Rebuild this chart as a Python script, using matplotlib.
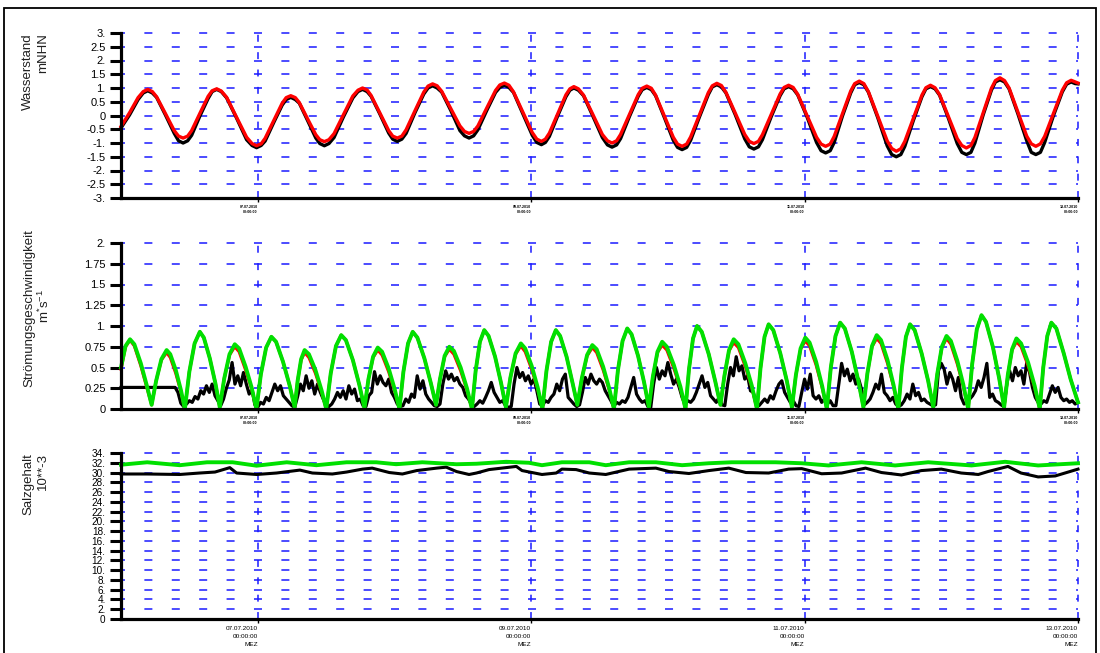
import numpy as np
import matplotlib
matplotlib.use("Agg")
import matplotlib.pyplot as plt
from matplotlib.ticker import FixedFormatter
from matplotlib.patches import Rectangle

plt.rcParams['font.family'] = ['Liberation Sans', 'DejaVu Sans']
plt.rcParams['mathtext.fontset'] = 'custom'
plt.rcParams['mathtext.rm'] = 'Liberation Sans'
plt.rcParams['mathtext.it'] = 'Liberation Sans'
plt.rcParams['lines.scale_dashes'] = False

# ---------------------------------------------------------------- data
start = np.datetime64('2010-07-06T00:00')
end = np.datetime64('2010-07-13T00:00')

# water level, hours after start (one row per half tide)
tide_hours = [
    0, 1.5, 3.0, 3.9, 4.7, 5.5,
    6.25, 7.8, 9.35, 10.1, 10.9, 11.7,
    12.4, 13.85, 15.3, 16.0, 16.8, 17.6,
    18.55, 20.3, 22.05, 23.0, 23.8, 24.6,
    25.3, 26.8, 28.3, 29.0, 29.8, 30.6,
    31.3, 32.75, 34.2, 34.9, 35.7, 36.5,
    37.4, 39.05, 40.7, 41.6, 42.4, 43.2,
    43.9, 45.45, 47.0, 47.7, 48.5, 49.3,
    50.05, 51.6, 53.15, 53.9, 54.7, 55.5,
    56.3, 57.9, 59.5, 60.3, 61.1, 61.9,
    62.65, 64.2, 65.75, 66.5, 67.3, 68.1,
    68.9, 70.55, 72.2, 73.0, 73.8, 74.5,
    75.2, 76.65, 78.1, 78.8, 79.5, 80.3,
    81.2, 82.85, 84.5, 85.4, 86.2, 87.0,
    87.7, 89.25, 90.8, 91.5, 92.3, 93.1,
    93.85, 95.4, 96.95, 97.7, 98.5, 99.3,
    100.0, 101.55, 103.1, 103.8, 104.6, 105.4,
    106.2, 107.85, 109.5, 110.3, 111.1, 111.9,
    112.6, 114.15, 115.7, 116.4, 117.2, 118.0,
    118.8, 120.45, 122.1, 122.9, 123.7, 124.5,
    125.2, 126.65, 128.1, 128.8, 129.6, 130.4,
    131.2, 132.85, 134.5, 135.3, 136.1, 136.9,
    137.6, 139.1, 140.6, 141.3, 142.1, 142.9,
    143.7, 145.25, 146.8, 147.6, 148.4, 149.2,
    149.9, 151.35, 152.8, 153.5, 154.3, 155.1,
    155.9, 157.45, 159.0, 159.8, 160.6, 161.4,
    162.15, 163.7, 165.25, 166.0, 166.8, 167.5,
    168.0]
tide_model = [
    -0.40, 0.10, 0.65, 0.87, 0.95, 0.87,
    0.68, 0.07, -0.55, -0.75, -0.82, -0.75,
    -0.55, 0.08, 0.70, 0.90, 0.97, 0.89,
    0.66, -0.07, -0.79, -1.02, -1.10, -1.03,
    -0.83, -0.19, 0.45, 0.65, 0.72, 0.65,
    0.47, -0.12, -0.70, -0.88, -0.95, -0.88,
    -0.66, 0.03, 0.71, 0.92, 1.00, 0.93,
    0.73, 0.09, -0.55, -0.75, -0.82, -0.75,
    -0.52, 0.17, 0.85, 1.07, 1.15, 1.08,
    0.88, 0.25, -0.38, -0.58, -0.65, -0.58,
    -0.38, 0.27, 0.91, 1.11, 1.18, 1.10,
    0.86, 0.12, -0.62, -0.86, -0.94, -0.86,
    -0.64, 0.06, 0.75, 0.97, 1.05, 0.97,
    0.74, 0.03, -0.69, -0.92, -1.00, -0.92,
    -0.69, 0.04, 0.76, 0.99, 1.07, 0.99,
    0.74, -0.03, -0.79, -1.04, -1.12, -1.04,
    -0.78, 0.03, 0.83, 1.08, 1.17, 1.09,
    0.84, 0.08, -0.69, -0.94, -1.02, -0.94,
    -0.70, 0.04, 0.78, 1.02, 1.10, 1.02,
    0.77, -0.01, -0.79, -1.04, -1.12, -1.04,
    -0.76, 0.07, 0.89, 1.16, 1.25, 1.16,
    0.87, -0.03, -0.92, -1.20, -1.30, -1.21,
    -0.94, -0.10, 0.74, 1.01, 1.10, 1.01,
    0.76, -0.04, -0.84, -1.09, -1.18, -1.09,
    -0.80, 0.10, 0.99, 1.27, 1.37, 1.27,
    1.00, 0.13, -0.75, -1.03, -1.12, -1.03,
    -0.76, 0.08, 0.92, 1.19, 1.28, 1.22,
    1.18]
tide_measured = [
    -0.45, 0.02, 0.58, 0.82, 0.90, 0.82,
    0.66, 0.02, -0.65, -0.92, -1.00, -0.92,
    -0.72, -0.02, 0.62, 0.87, 0.95, 0.87,
    0.64, -0.10, -0.88, -1.09, -1.17, -1.09,
    -0.93, -0.26, 0.38, 0.58, 0.66, 0.58,
    0.45, -0.18, -0.82, -1.02, -1.10, -1.02,
    -0.80, -0.05, 0.64, 0.87, 0.95, 0.87,
    0.70, 0.05, -0.64, -0.86, -0.94, -0.86,
    -0.65, 0.10, 0.78, 1.00, 1.08, 1.00,
    0.85, 0.18, -0.55, -0.74, -0.82, -0.74,
    -0.52, 0.18, 0.84, 1.02, 1.10, 1.02,
    0.84, 0.06, -0.72, -0.98, -1.06, -0.98,
    -0.76, -0.02, 0.68, 0.92, 1.00, 0.92,
    0.72, -0.03, -0.80, -1.07, -1.15, -1.07,
    -0.84, -0.04, 0.70, 0.94, 1.02, 0.94,
    0.72, -0.08, -0.90, -1.16, -1.24, -1.16,
    -0.90, -0.05, 0.76, 1.04, 1.12, 1.04,
    0.82, 0.02, -0.85, -1.14, -1.22, -1.14,
    -0.88, -0.04, 0.72, 0.97, 1.05, 0.97,
    0.75, -0.06, -0.98, -1.28, -1.36, -1.28,
    -0.98, -0.02, 0.82, 1.12, 1.20, 1.12,
    0.85, -0.08, -1.10, -1.42, -1.50, -1.42,
    -1.12, -0.18, 0.68, 0.97, 1.05, 0.97,
    0.74, -0.10, -1.02, -1.34, -1.42, -1.34,
    -1.00, 0.02, 0.92, 1.22, 1.30, 1.22,
    0.97, 0.06, -0.92, -1.34, -1.42, -1.34,
    -0.98, 0.00, 0.86, 1.14, 1.22, 1.16,
    1.15]

# current speed of the two model runs, hours after start (one row per flow phase)
speed_hours = [
    0, 0.8, 1.58, 2.34, 3.48, 4.54, 5.38,
    6.17, 7.09, 8.01, 8.65, 9.61, 10.51, 11.21,
    12.00, 12.92, 13.84, 14.54, 15.59, 16.57, 17.34,
    18.13, 19.05, 19.97, 20.73, 21.87, 22.93, 23.77,
    24.56, 25.48, 26.40, 27.22, 28.44, 29.58, 30.48,
    31.01, 31.62, 32.23, 32.99, 34.13, 35.19, 36.03,
    36.82, 37.74, 38.66, 39.48, 40.70, 41.84, 42.74,
    43.44, 44.25, 45.07, 45.83, 46.98, 48.04, 48.88,
    49.58, 50.39, 51.21, 52.03, 53.26, 54.40, 55.30,
    56.00, 56.81, 57.63, 58.43, 59.62, 60.73, 61.61,
    62.26, 63.01, 63.77, 64.53, 65.67, 66.73, 67.57,
    68.36, 69.27, 70.19, 70.95, 72.09, 73.15, 73.98,
    74.69, 75.51, 76.33, 77.09, 78.22, 79.28, 80.11,
    80.90, 81.82, 82.74, 83.50, 84.64, 85.70, 86.54,
    87.24, 88.05, 88.87, 89.63, 90.77, 91.83, 92.67,
    93.37, 94.18, 95.00, 95.82, 97.05, 98.20, 99.10,
    99.71, 100.42, 101.13, 101.95, 103.18, 104.33, 105.23,
    105.93, 106.74, 107.56, 108.38, 109.60, 110.74, 111.64,
    112.26, 112.97, 113.69, 114.51, 115.74, 116.88, 117.78,
    118.48, 119.30, 120.12, 120.88, 122.02, 123.08, 123.91,
    124.61, 125.43, 126.25, 127.07, 128.29, 129.43, 130.33,
    131.03, 131.84, 132.66, 133.42, 134.56, 135.62, 136.46,
    137.08, 137.79, 138.51, 139.33, 140.55, 141.69, 142.59,
    143.29, 144.10, 144.92, 145.68, 146.82, 147.88, 148.72,
    149.42, 150.24, 151.06, 151.85, 153.05, 154.16, 155.03,
    155.68, 156.43, 157.19, 158.01, 159.24, 160.39, 161.29,
    161.90, 162.61, 163.32, 164.20, 165.50, 166.70, 168.0]
speed_green = [
    0.50, 0.76, 0.84, 0.78, 0.55, 0.28, 0.05,
    0.34, 0.60, 0.71, 0.66, 0.47, 0.23, 0.00,
    0.45, 0.79, 0.93, 0.86, 0.61, 0.31, 0.02,
    0.37, 0.66, 0.78, 0.73, 0.51, 0.26, 0.00,
    0.42, 0.74, 0.87, 0.81, 0.57, 0.29, 0.02,
    0.34, 0.60, 0.71, 0.66, 0.47, 0.23, 0.00,
    0.43, 0.76, 0.89, 0.83, 0.59, 0.29, 0.01,
    0.36, 0.63, 0.74, 0.69, 0.49, 0.24, 0.00,
    0.45, 0.79, 0.93, 0.86, 0.61, 0.31, 0.05,
    0.36, 0.64, 0.75, 0.70, 0.50, 0.25, 0.00,
    0.46, 0.81, 0.95, 0.88, 0.63, 0.31, 0.02,
    0.38, 0.67, 0.79, 0.73, 0.52, 0.26, 0.00,
    0.46, 0.81, 0.95, 0.88, 0.63, 0.31, 0.05,
    0.37, 0.65, 0.77, 0.72, 0.51, 0.25, 0.00,
    0.47, 0.82, 0.97, 0.90, 0.64, 0.32, 0.02,
    0.39, 0.69, 0.81, 0.75, 0.53, 0.27, 0.00,
    0.48, 0.85, 1.00, 0.93, 0.66, 0.33, 0.05,
    0.40, 0.71, 0.84, 0.78, 0.55, 0.28, 0.00,
    0.49, 0.87, 1.02, 0.95, 0.67, 0.34, 0.02,
    0.41, 0.73, 0.86, 0.80, 0.57, 0.28, 0.00,
    0.50, 0.88, 1.04, 0.97, 0.69, 0.34, 0.02,
    0.43, 0.76, 0.89, 0.83, 0.59, 0.29, 0.00,
    0.49, 0.87, 1.02, 0.95, 0.67, 0.34, 0.02,
    0.42, 0.75, 0.88, 0.82, 0.58, 0.29, 0.00,
    0.54, 0.96, 1.13, 1.05, 0.75, 0.37, 0.02,
    0.41, 0.72, 0.85, 0.79, 0.56, 0.28, 0.00,
    0.50, 0.88, 1.04, 0.97, 0.67, 0.36, 0.08]
speed_red = [
    0.48, 0.75, 0.83, 0.76, 0.52, 0.26, 0.05,
    0.34, 0.59, 0.68, 0.62, 0.43, 0.21, 0.00,
    0.45, 0.79, 0.93, 0.86, 0.61, 0.31, 0.02,
    0.37, 0.65, 0.75, 0.69, 0.47, 0.24, 0.00,
    0.42, 0.74, 0.87, 0.81, 0.57, 0.29, 0.02,
    0.34, 0.59, 0.68, 0.62, 0.43, 0.21, 0.00,
    0.43, 0.76, 0.89, 0.83, 0.59, 0.29, 0.01,
    0.36, 0.62, 0.71, 0.65, 0.45, 0.22, 0.00,
    0.45, 0.79, 0.93, 0.86, 0.61, 0.31, 0.05,
    0.36, 0.63, 0.72, 0.66, 0.46, 0.23, 0.00,
    0.46, 0.81, 0.95, 0.88, 0.63, 0.31, 0.02,
    0.38, 0.66, 0.76, 0.69, 0.48, 0.24, 0.00,
    0.46, 0.81, 0.95, 0.88, 0.63, 0.31, 0.05,
    0.37, 0.64, 0.74, 0.68, 0.47, 0.23, 0.00,
    0.47, 0.82, 0.97, 0.90, 0.64, 0.32, 0.02,
    0.39, 0.68, 0.77, 0.71, 0.49, 0.25, 0.00,
    0.48, 0.85, 1.00, 0.93, 0.66, 0.33, 0.05,
    0.40, 0.70, 0.80, 0.74, 0.51, 0.26, 0.00,
    0.49, 0.87, 1.02, 0.95, 0.67, 0.34, 0.02,
    0.41, 0.72, 0.82, 0.76, 0.53, 0.26, 0.00,
    0.50, 0.88, 1.04, 0.97, 0.69, 0.34, 0.02,
    0.43, 0.75, 0.85, 0.79, 0.55, 0.27, 0.00,
    0.49, 0.87, 1.02, 0.95, 0.67, 0.34, 0.02,
    0.42, 0.74, 0.85, 0.78, 0.54, 0.27, 0.00,
    0.54, 0.96, 1.13, 1.05, 0.75, 0.37, 0.02,
    0.41, 0.71, 0.81, 0.75, 0.52, 0.26, 0.00,
    0.50, 0.88, 1.04, 0.97, 0.67, 0.36, 0.08]

# measured current speed, sampled every half hour from start
speed_step_h = 0.5
speed_measured = [0.26] * 20 + [
    0.20, 0.07, 0.03, 0.06, 0.10, 0.08, 0.15, 0.12, 0.22, 0.18, 0.28, 0.20,
    0.30, 0.16, 0.10, 0.04, 0.12, 0.25, 0.35, 0.56, 0.30, 0.40, 0.28, 0.44,
    0.30, 0.18, 0.24, 0.05, 0.02, 0.08, 0.06, 0.14, 0.10, 0.20, 0.30, 0.22,
    0.28, 0.16, 0.12, 0.08, 0.04, 0.02, 0.15, 0.30, 0.22, 0.40, 0.25, 0.34,
    0.18, 0.30, 0.20, 0.12, 0.05, 0.03, 0.06, 0.12, 0.20, 0.14, 0.22, 0.12,
    0.28, 0.18, 0.24, 0.10, 0.12, 0.04, 0.03, 0.16, 0.20, 0.45, 0.30, 0.40,
    0.32, 0.28, 0.36, 0.20, 0.14, 0.06, 0.03, 0.04, 0.12, 0.08, 0.18, 0.14,
    0.40, 0.24, 0.34, 0.18, 0.12, 0.08, 0.04, 0.03, 0.06, 0.30, 0.46, 0.36,
    0.42, 0.34, 0.38, 0.30, 0.26, 0.16, 0.12, 0.06, 0.03, 0.06, 0.10, 0.07,
    0.14, 0.22, 0.32, 0.20, 0.14, 0.08, 0.10, 0.04, 0.02, 0.03, 0.30, 0.50,
    0.38, 0.44, 0.34, 0.40, 0.30, 0.36, 0.22, 0.06, 0.04, 0.10, 0.08, 0.14,
    0.18, 0.30, 0.22, 0.36, 0.42, 0.14, 0.10, 0.06, 0.03, 0.05, 0.20, 0.38,
    0.30, 0.42, 0.34, 0.30, 0.36, 0.32, 0.22, 0.16, 0.10, 0.03, 0.08, 0.06,
    0.10, 0.08, 0.14, 0.26, 0.38, 0.18, 0.12, 0.08, 0.10, 0.03, 0.02, 0.30,
    0.50, 0.36, 0.46, 0.40, 0.56, 0.42, 0.30, 0.36, 0.26, 0.14, 0.06, 0.10,
    0.08, 0.12, 0.20, 0.30, 0.40, 0.26, 0.32, 0.16, 0.12, 0.08, 0.14, 0.05,
    0.04, 0.30, 0.50, 0.40, 0.63, 0.46, 0.52, 0.36, 0.40, 0.22, 0.20, 0.06,
    0.04, 0.08, 0.12, 0.08, 0.16, 0.12, 0.22, 0.30, 0.34, 0.20, 0.14, 0.08,
    0.10, 0.04, 0.03, 0.20, 0.36, 0.24, 0.42, 0.16, 0.12, 0.16, 0.08, 0.12,
    0.06, 0.10, 0.04, 0.04, 0.30, 0.55, 0.40, 0.48, 0.34, 0.42, 0.30, 0.36,
    0.24, 0.05, 0.08, 0.12, 0.20, 0.30, 0.24, 0.42, 0.20, 0.16, 0.10, 0.14,
    0.06, 0.03, 0.05, 0.10, 0.18, 0.12, 0.30, 0.16, 0.20, 0.10, 0.12, 0.08,
    0.06, 0.04, 0.05, 0.46, 0.55, 0.48, 0.30, 0.44, 0.36, 0.22, 0.38, 0.14,
    0.06, 0.08, 0.12, 0.16, 0.22, 0.34, 0.26, 0.38, 0.55, 0.14, 0.18, 0.10,
    0.08, 0.05, 0.03, 0.30, 0.46, 0.34, 0.50, 0.40, 0.46, 0.30, 0.56, 0.44,
    0.26, 0.14, 0.08, 0.06, 0.10, 0.08, 0.18, 0.28, 0.20, 0.26, 0.14, 0.10,
    0.12, 0.08, 0.10, 0.06, 0.08]

# salinity, hours after start
salt_model_hours = [0, 4.6, 10.3, 15.1, 19.6, 23.8, 29.1, 34.3, 39.6, 44.8, 48.3,
                    52.9, 58.9, 62.4, 67.6, 71.6, 73.9, 77.4, 82.2, 85.1, 89.2,
                    93.9, 98.5, 103.2, 107.2, 114.9, 119.5, 124.2, 130.0, 135.9,
                    141.7, 149.3, 155.2, 161.0, 168.0]
salt_model = [31.6, 32.1, 31.5, 32.1, 32.1, 31.4, 32.1, 31.5, 32.1, 32.1, 31.7,
              32.1, 31.7, 31.8, 32.2, 32.0, 31.5, 32.1, 32.1, 31.5, 32.1,
              32.1, 31.5, 31.9, 32.1, 32.1, 31.9, 31.45, 32.1, 31.45,
              32.1, 31.45, 32.2, 31.45, 31.9]
salt_meas_hours = [0, 4.6, 10.3, 13.8, 16.5, 19.1, 20.3, 23.8, 27.3, 31.4, 33.6,
                   37.1, 39.6, 42.4, 44.1, 47.1, 49.4, 51.9, 55.4, 57.1, 58.9,
                   61.1, 62.4, 64.6, 69.4, 70.4, 73.9, 76.4, 77.4, 79.9, 82.2,
                   85.1, 89.2, 93.9, 96.2, 99.7, 103.2, 106.7, 109.7, 113.7,
                   117.2, 119.5, 123.0, 126.5, 130.7, 133.5, 137.0, 140.5, 144.0,
                   147.5, 150.5, 152.2, 155.7, 158.0, 161.0, 164.0, 168.0]
salt_measured = [29.7, 29.7, 29.6, 29.9, 30.1, 31.0, 29.9, 29.6, 29.9, 30.5, 29.9,
                 29.7, 30.1, 30.7, 30.9, 30.0, 29.7, 30.4, 30.9, 31.1, 30.2,
                 29.6, 29.9, 30.6, 31.25, 30.4, 29.6, 29.9, 30.7, 30.6, 29.9,
                 29.6, 30.7, 30.9, 30.2, 29.8, 30.4, 30.9, 30.0, 29.9,
                 30.7, 30.8, 29.75, 29.9, 30.9, 30.0, 29.5, 30.4, 30.7,
                 29.9, 29.6, 30.2, 31.25, 29.9, 29.1, 29.3, 30.7]

# axis ticks and labels
tide_ticks = [3, 2.5, 2, 1.5, 1, 0.5, 0, -0.5, -1, -1.5, -2, -2.5, -3]
tide_tick_labels = ['3.', '2.5', '2.', '1.5', '1.', '0.5', '0', '-0.5', '-1.',
                    '-1.5', '-2.', '-2.5', '-3.']
speed_ticks = [2, 1.75, 1.5, 1.25, 1, 0.75, 0.5, 0.25, 0]
speed_tick_labels = ['2.', '1.75', '1.5', '1.25', '1.', '0.75', '0.5', '0.25', '0']
salt_ticks = list(range(34, -1, -2))
salt_tick_labels = [f'{v}.' if v else '0' for v in salt_ticks]
date_ticks = ['2010-07-07', '2010-07-09', '2010-07-11', '2010-07-13']
date_labels = ['07.07.2010', '09.07.2010', '11.07.2010', '13.07.2010']
time_label = '00:00:00'
zone_label = 'MEZ'


def to_time(hours):
    return start + (np.asarray(hours, dtype=float) * 3600).astype('timedelta64[s]')


# ---------------------------------------------------------------- figure
W, H = 1100, 653
fig = plt.figure(figsize=(W / 100, H / 100), dpi=100)
fig.patch.set_facecolor('white')

left, right = 121, 1078
panels = [(33, 198), (243, 409), (453, 619)]
axes = []
for top, bot in panels:
    ax = fig.add_axes([left / W, 1 - bot / H, (right - left) / W, (bot - top) / H])
    axes.append(ax)

grid_blue = '#1a1aff'
tick_dates = [np.datetime64(d + 'T00:00') for d in date_ticks]

for ax in axes:
    ax.set_xlim(start, end)
    for s in ('top', 'right'):
        ax.spines[s].set_visible(False)
    for s in ('left', 'bottom'):
        ax.spines[s].set_linewidth(2.3)
        ax.spines[s].set_color('black')
        ax.spines[s].set_zorder(6)
    ax.tick_params(axis='y', direction='out', length=8, width=2.2, pad=3,
                   labelsize=8, colors='black')
    ax.tick_params(axis='x', direction='out', length=3, width=1.0, pad=2,
                   colors='black')
    ax.set_xticks(tick_dates)

# y scales
axes[0].set_ylim(-3, 3)
axes[0].set_yticks(tide_ticks)
axes[0].set_yticklabels(tide_tick_labels)
axes[1].set_ylim(0, 2)
axes[1].set_yticks(speed_ticks)
axes[1].set_yticklabels(speed_tick_labels)
axes[2].set_ylim(0, 34)
axes[2].set_yticks(salt_ticks)
axes[2].set_yticklabels(salt_tick_labels, fontsize=7.2,
                        family=['Liberation Sans Narrow', 'Liberation Sans'])

# dashed grid: horizontal at every labelled value, vertical at the date ticks
for ax, ticks in zip(axes, [tide_ticks, speed_ticks, salt_ticks]):
    lo = min(ticks)
    for yv in ticks:
        if yv == lo:
            continue
        ax.axhline(yv, color=grid_blue, lw=1.1, zorder=0.5,
                   linestyle=(2.9, (5.76, 13.97)))
    for d in tick_dates:
        ax.axvline(d, color=grid_blue, lw=1.1, zorder=0.5,
                   linestyle=(0, (5.0, 7.5)))

# x tick labels
small_labels = [f'{d}\n{time_label}' for d in date_labels]
full_labels = [f'{d}\n{time_label}\n{zone_label}' for d in date_labels]
for ax in axes[:2]:
    ax.xaxis.set_major_formatter(FixedFormatter(small_labels))
    for lab in ax.get_xticklabels():
        lab.set_fontsize(2.6)
        lab.set_horizontalalignment('right')
        lab.set_multialignment('right')
        lab.set_fontweight('bold')
axes[2].xaxis.set_major_formatter(FixedFormatter(full_labels))
for lab in axes[2].get_xticklabels():
    lab.set_fontsize(4.6)
    lab.set_horizontalalignment('right')
    lab.set_multialignment('right')
    lab.set_linespacing(1.75)
    lab.set_family(['Liberation Sans Narrow', 'Liberation Sans'])

# data
ax1, ax2, ax3 = axes
ax1.plot(to_time(tide_hours), tide_measured, color='black', lw=2.4, zorder=3,
         solid_joinstyle='round')
ax1.plot(to_time(tide_hours), tide_model, color='#ff0000', lw=2.4, zorder=4,
         solid_joinstyle='round')

speed_times = to_time(np.arange(len(speed_measured)) * speed_step_h)
ax2.plot(speed_times, speed_measured, color='black', lw=2.3, zorder=3)
ax2.plot(to_time(speed_hours), speed_red, color='#ff0000', lw=2.2, zorder=4,
         solid_joinstyle='round')
ax2.plot(to_time(speed_hours), speed_green, color='#00e000', lw=2.8, zorder=5,
         solid_joinstyle='round')

ax3.plot(to_time(salt_meas_hours), salt_measured, color='black', lw=2.2, zorder=3)
ax3.plot(to_time(salt_model_hours), salt_model, color='#00e000', lw=2.8, zorder=4)

for ax in axes:
    for ln in ax.lines:
        ln.set_clip_on(False)

# axis titles
lab_kw = dict(rotation=90, fontsize=9.5, color='#202020', transform=fig.transFigure)
fig.text(28 / W, 1 - 33 / H, 'Wasserstand', ha='center', va='top', **lab_kw)
fig.text(43 / W, 1 - 33 / H, 'mNHN', ha='center', va='top', **lab_kw)
fig.text(29 / W, 1 - 308 / H, 'Strömungsgeschwindigkeit', ha='center', va='center', **lab_kw)
fig.text(44 / W, 1 - 306 / H, r'm$^{*}$s$^{\mathregular{-1}}$', ha='center', va='center', **lab_kw)
fig.text(28 / W, 1 - 453 / H, 'Salzgehalt', ha='center', va='top', **lab_kw)
fig.text(43 / W, 1 - 453 / H, '10**-3', ha='center', va='top', **lab_kw)

# outer frame
fig.add_artist(Rectangle((4 / W, -0.01), (1096 - 4) / W, 1.01 - 8 / H,
                         transform=fig.transFigure, fill=False,
                         edgecolor='black', lw=1.3))

fig.savefig('out.png', dpi=100, facecolor='white')
